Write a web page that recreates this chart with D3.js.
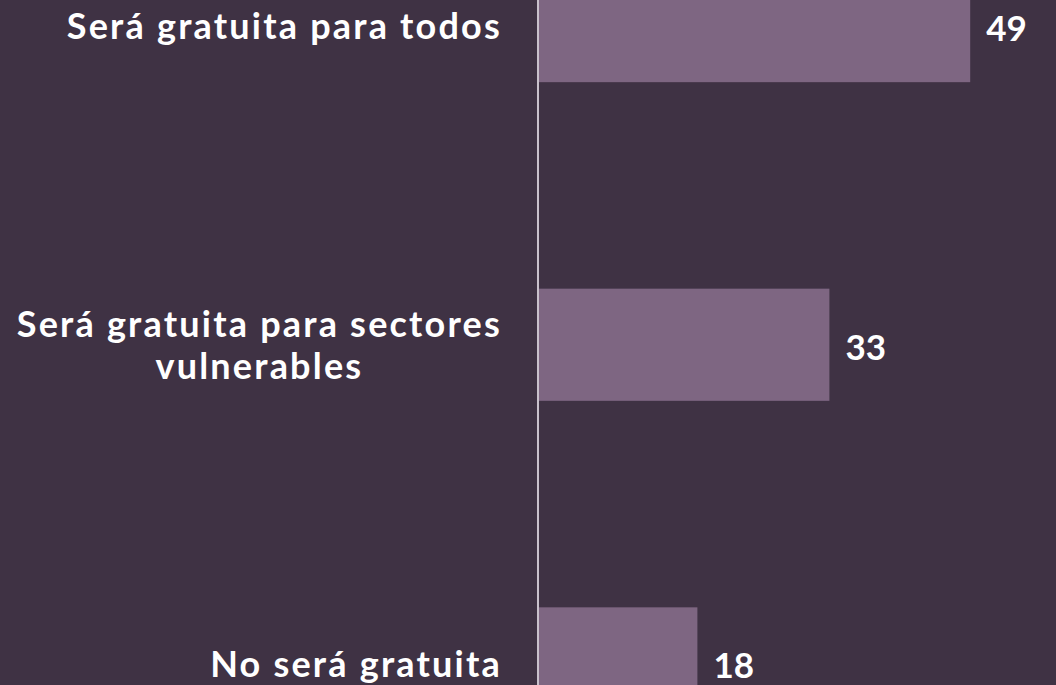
<!DOCTYPE html>
<html>
<head>
<meta charset="utf-8">
<script src="https://cdn.jsdelivr.net/npm/d3@7"></script>
<style>
  html, body { margin: 0; padding: 0; background: #3f3244; }
  svg { display: block; }
</style>
</head>
<body>
<div id="chart"></div>
<script>
// data
let categories = [["Será gratuita para todos"], ["Será gratuita para sectores", "vulnerables"], ["No será gratuita"]];
let values = [49, 33, 18];

let width = 1056, height = 685;
let labelRight = 502;
let font = "Lato, 'Open Sans', sans-serif";

let svg = d3.select("#chart").append("svg")
    .attr("width", width)
    .attr("height", height);

svg.append("rect").attr("width", width).attr("height", height).attr("fill", "#3f3244");

let x = d3.scaleLinear().domain([0, 50]).range([539, 979]);
let y = d3.scaleBand()
    .domain(d3.range(values.length))
    .range([-30, 719.5])
    .paddingInner(0.648)
    .paddingOuter(0);

// bars
svg.selectAll("rect.bar")
    .data(values)
    .enter().append("rect")
    .attr("class", "bar")
    .attr("x", x(0))
    .attr("y", (d, i) => y(i))
    .attr("width", d => x(d) - x(0))
    .attr("height", y.bandwidth())
    .attr("fill", "#7e6682");

// axis line
svg.append("line")
    .attr("x1", 538).attr("x2", 538)
    .attr("y1", 0).attr("y2", height)
    .attr("stroke", "#c9c1cc")
    .attr("stroke-width", 2);

// value labels
svg.selectAll("text.value")
    .data(values)
    .enter().append("text")
    .attr("class", "value")
    .attr("x", d => x(d) + 16)
    .attr("y", (d, i) => y(i) + y.bandwidth() / 2 + 6)
    .attr("dominant-baseline", "middle")
    .attr("fill", "#ffffff")
    .style("font-family", font)
    .style("font-weight", 700)
    .style("font-size", "35px")
    .text(d => d);

// category labels (right aligned block, lines centered inside)
categories.forEach(function(lines, i) {
    let cy = y(i) + y.bandwidth() / 2;
    let lineH = 42;
    let g = svg.append("g");
    let texts = lines.map(function(l, j) {
        return g.append("text")
            .attr("y", cy + (j - (lines.length - 1) / 2) * lineH + 4)
            .attr("dominant-baseline", "middle")
            .attr("text-anchor", "middle")
            .attr("fill", "#ffffff")
            .style("font-family", font)
            .style("font-weight", 700)
            .style("font-size", "36px")
            .style("letter-spacing", "2.2px")
            .text(l);
    });
    let maxW = d3.max(texts, t => t.node().getComputedTextLength());
    texts.forEach(t => t.attr("x", labelRight - maxW / 2));
});
</script>
</body>
</html>
